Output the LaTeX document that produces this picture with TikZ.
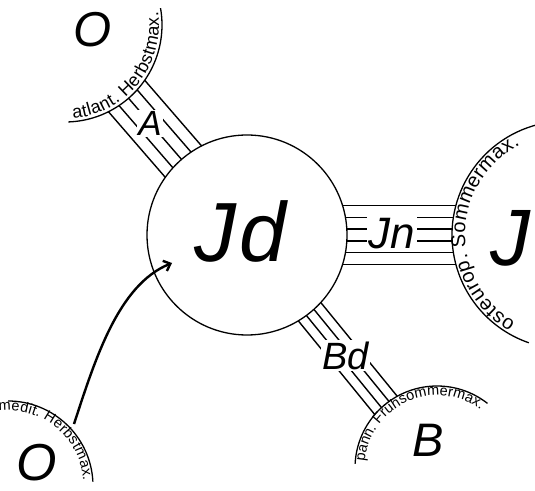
\documentclass[tikz,border=0pt]{standalone}
\usepackage{fontspec}
\setmainfont{Liberation Sans}
\usetikzlibrary{decorations.text,arrows.meta,calc}
\begin{document}
\begin{tikzpicture}[x=1pt,y=1pt,
  ring/.style={line width=1.3pt},
  bandline/.style={line width=1.4pt},
  biglab/.style={inner sep=0pt},
  bandlab/.style={fill=white,inner sep=1.5pt},
  arctext/.style={decorate,decoration={text along path,text align=fit to path,text={#1}}},
  flowarrow/.style={line width=2.4pt,-{Straight Barb[length=6pt,width=11pt]}}
]
\useasboundingbox (0,0) rectangle (535,490);
\clip (0,0) rectangle (535,490);
% centres of the outer (partial) circles
\coordinate (cO1) at (65,465);
\coordinate (cJ) at (566,255);
\coordinate (cB) at (437,22);
\coordinate (cO2) at (8,4);
% central circle
\node[circle,draw,ring,minimum size=200pt,inner sep=0pt] (Jd) at (247,255) {};
\node[biglab,font=\itshape\fontsize{84}{84}\selectfont] (Jdl) at (240,259) {J\kern3pt d};
% partial circles
\draw[ring] ($(cO1)+(-88:97)$) arc[start angle=-88,end angle=10,radius=97];
\draw[ring] ($(cJ)+(104:114)$) arc[start angle=104,end angle=251,radius=114];
\draw[ring] ($(cB)+(52:82)$) arc[start angle=52,end angle=177,radius=82];
\draw[ring] ($(cO2)+(3:85)$) arc[start angle=3,end angle=90,radius=85];
% letters in outer circles
\node[biglab,font=\itshape\fontsize{49}{49}\selectfont] (O1l) at (93,460) {O};
\node[biglab,font=\itshape\fontsize{80}{80}\selectfont] (Jl) at (510,252) {J};
\node[biglab,font=\itshape\fontsize{47}{47}\selectfont] (Bl) at (428,50) {B};
\node[biglab,font=\itshape\fontsize{52}{52}\selectfont] (O2l) at (37,27) {O};
% curved texts
\path[arctext={|\fontsize{18}{18}\selectfont|atlant. Herbstmax.}]
  ($(cO1)+(-85:94)$) arc[start angle=-85,end angle=8,radius=94];
\path[arctext={|\fontsize{20}{20}\selectfont|osteurop. Sommermax.}]
  ($(cJ)+(240:101)$) arc[start angle=240,end angle=117,radius=101];
\path[arctext={|\fontsize{14.5}{14.5}\selectfont|pann. Frühsommermax.}]
  ($(cB)+(175:72.5)$) arc[start angle=175,end angle=53,radius=72.5];
\path[arctext={|\fontsize{14.5}{14.5}\selectfont|medit. Herbstmax.}]
  ($(cO2)+(97:75.5)$) arc[start angle=97,end angle=4,radius=75.5];
% band A
\begin{scope}[shift={(Jd.center)},rotate=130.9]
  \foreach \d in {-12,0,12}
    \draw[bandline] ({sqrt(10000-(\d)^2)},\d) -- ({277.9-sqrt(9409-(\d)^2)},\d);
  \node[bandlab,font=\itshape\fontsize{35}{35}\selectfont] (lA) at (148,0) {A};
  \foreach \d in {-24,24}
    \draw[bandline] ({sqrt(10000-(\d)^2)},\d) -- ({277.9-sqrt(9409-(\d)^2)},\d);
\end{scope}
% band Jn
\begin{scope}[shift={(Jd.center)}]
  \foreach \d in {-17.7,-5.9,5.9,17.7}
    \draw[bandline] ({sqrt(10000-(\d)^2)},\d) -- ({319-sqrt(12996-(\d)^2)},\d);
  \node[bandlab,font=\itshape\fontsize{44}{44}\selectfont] (lJn) at (145,1) {Jn};
  \foreach \d in {-29.5,29.5}
    \draw[bandline] ({sqrt(10000-(\d)^2)},\d) -- ({319-sqrt(12996-(\d)^2)},\d);
\end{scope}
% band Bd
\begin{scope}[shift={(Jd.center)},rotate=-50.8]
  \foreach \d in {-14.5,-4.85,4.85,14.5}
    \draw[bandline] ({sqrt(10000-(\d)^2)},\d) -- ({300.6-sqrt(6724-(\d)^2)},\d);
  \node[bandlab,font=\itshape\fontsize{38}{38}\selectfont] (lBd) at (156,0) {Bd};
\end{scope}
% arrow
\coordinate (ast) at (74,66);
\coordinate (atip) at (172,227);
\draw[flowarrow] (ast) .. controls (95,130) and (118,205) .. (atip);
\end{tikzpicture}
\end{document}
